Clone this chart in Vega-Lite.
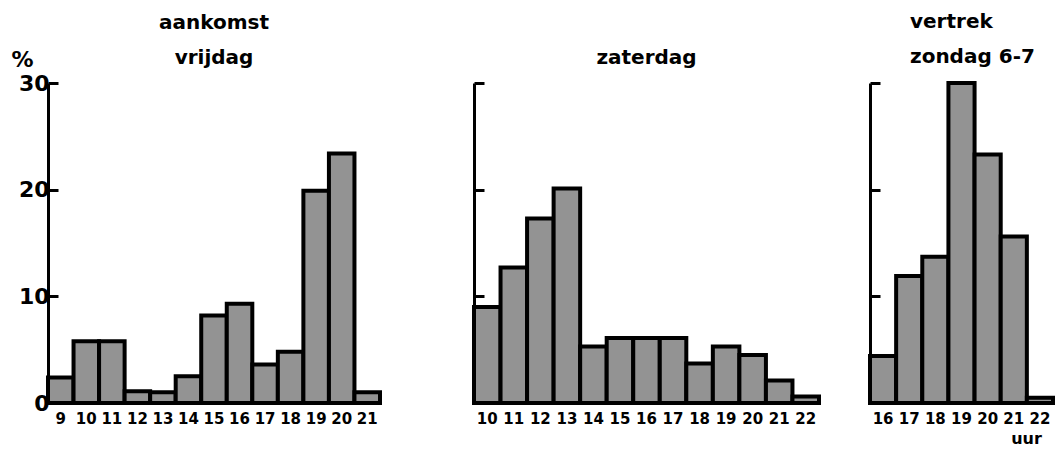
{
  "$schema": "https://vega.github.io/schema/vega-lite/v6.json",
  "background": "white",
  "padding": {"left": 5, "top": 12, "right": 0, "bottom": 0},
  "spacing": 0,
  "datasets": {
    "vrijdag": [
      {"uur": 9, "pct": 2.4}, {"uur": 10, "pct": 5.8}, {"uur": 11, "pct": 5.8},
      {"uur": 12, "pct": 1.1}, {"uur": 13, "pct": 1.0}, {"uur": 14, "pct": 2.5},
      {"uur": 15, "pct": 8.2}, {"uur": 16, "pct": 9.3}, {"uur": 17, "pct": 3.6},
      {"uur": 18, "pct": 4.8}, {"uur": 19, "pct": 19.9}, {"uur": 20, "pct": 23.4},
      {"uur": 21, "pct": 1.0}
    ],
    "zaterdag": [
      {"uur": 10, "pct": 9.0}, {"uur": 11, "pct": 12.7}, {"uur": 12, "pct": 17.3},
      {"uur": 13, "pct": 20.1}, {"uur": 14, "pct": 5.3}, {"uur": 15, "pct": 6.1},
      {"uur": 16, "pct": 6.1}, {"uur": 17, "pct": 6.1}, {"uur": 18, "pct": 3.7},
      {"uur": 19, "pct": 5.3}, {"uur": 20, "pct": 4.5}, {"uur": 21, "pct": 2.1},
      {"uur": 22, "pct": 0.6}
    ],
    "zondag": [
      {"uur": 16, "pct": 4.4}, {"uur": 17, "pct": 11.9}, {"uur": 18, "pct": 13.7},
      {"uur": 19, "pct": 30.0}, {"uur": 20, "pct": 23.3}, {"uur": 21, "pct": 15.6},
      {"uur": 22, "pct": 0.5}
    ]
  },
  "config": {
    "font": "DejaVu Sans",
    "view": {"stroke": null},
    "bar": {"fill": "#939393", "stroke": "black", "strokeWidth": 4, "strokeJoin": "miter"},
    "title": {"fontSize": 20, "fontWeight": "bold", "color": "black", "lineHeight": 35, "offset": 14},
    "axisX": {
      "domain": false, "ticks": false, "labelAngle": 0, "labelFontSize": 15,
      "labelFontWeight": "bold", "labelColor": "black", "labelPadding": 8, "title": null
    },
    "axisY": {
      "domain": true, "domainColor": "black", "domainWidth": 3, "ticks": true,
      "tickColor": "black", "tickWidth": 3, "tickSize": -10, "grid": false,
      "labelFontSize": 22, "labelFontWeight": "bold", "labelColor": "black"
    }
  },
  "hconcat": [
    {
      "width": 332, "height": 320,
      "title": {"text": ["aankomst", "vrijdag"], "offset": -20},
      "data": {"name": "vrijdag"},
      "mark": "bar",
      "encoding": {
        "x": {"field": "uur", "type": "ordinal", "scale": {"paddingInner": 0, "paddingOuter": 0}},
        "y": {"field": "pct", "type": "quantitative", "scale": {"domain": [0, 30], "nice": false},
          "axis": {"values": [0, 10, 20, 30], "title": "%", "titleAngle": 0, "titleX": -26, "titleY": -17, "titleFontSize": 22,
            "titleFontWeight": "bold", "titleColor": "black", "titleAlign": "center", "titleBaseline": "alphabetic",
            "labelPadding": 9, "minExtent": 43, "maxExtent": 43}}
      }
    },
    {
      "width": 345, "height": 320,
      "title": {"text": "zaterdag"},
      "data": {"name": "zaterdag"},
      "mark": "bar",
      "encoding": {
        "x": {"field": "uur", "type": "ordinal", "scale": {"paddingInner": 0, "paddingOuter": 0}},
        "y": {"field": "pct", "type": "quantitative", "scale": {"domain": [0, 30], "nice": false},
          "axis": {"title": null, "labels": false, "values": [10, 20, 30], "minExtent": 92, "maxExtent": 92}}
      }
    },
    {
      "width": 183, "height": 320,
      "title": {"text": ["vertrek", "zondag 6-7"], "anchor": "start", "align": "left", "frame": "group", "dx": 40},
      "data": {"name": "zondag"},
      "mark": "bar",
      "encoding": {
        "x": {"field": "uur", "type": "ordinal", "scale": {"paddingInner": 0, "paddingOuter": 0},
          "axis": {"title": "uur", "titleX": 156, "titleY": 40, "titleFontSize": 16, "titleFontWeight": "bold",
            "titleColor": "black", "titleAlign": "center", "titleBaseline": "alphabetic"}},
        "y": {"field": "pct", "type": "quantitative", "scale": {"domain": [0, 30], "nice": false},
          "axis": {"title": null, "labels": false, "values": [10, 20, 30], "minExtent": 49, "maxExtent": 49}}
      }
    }
  ]
}
